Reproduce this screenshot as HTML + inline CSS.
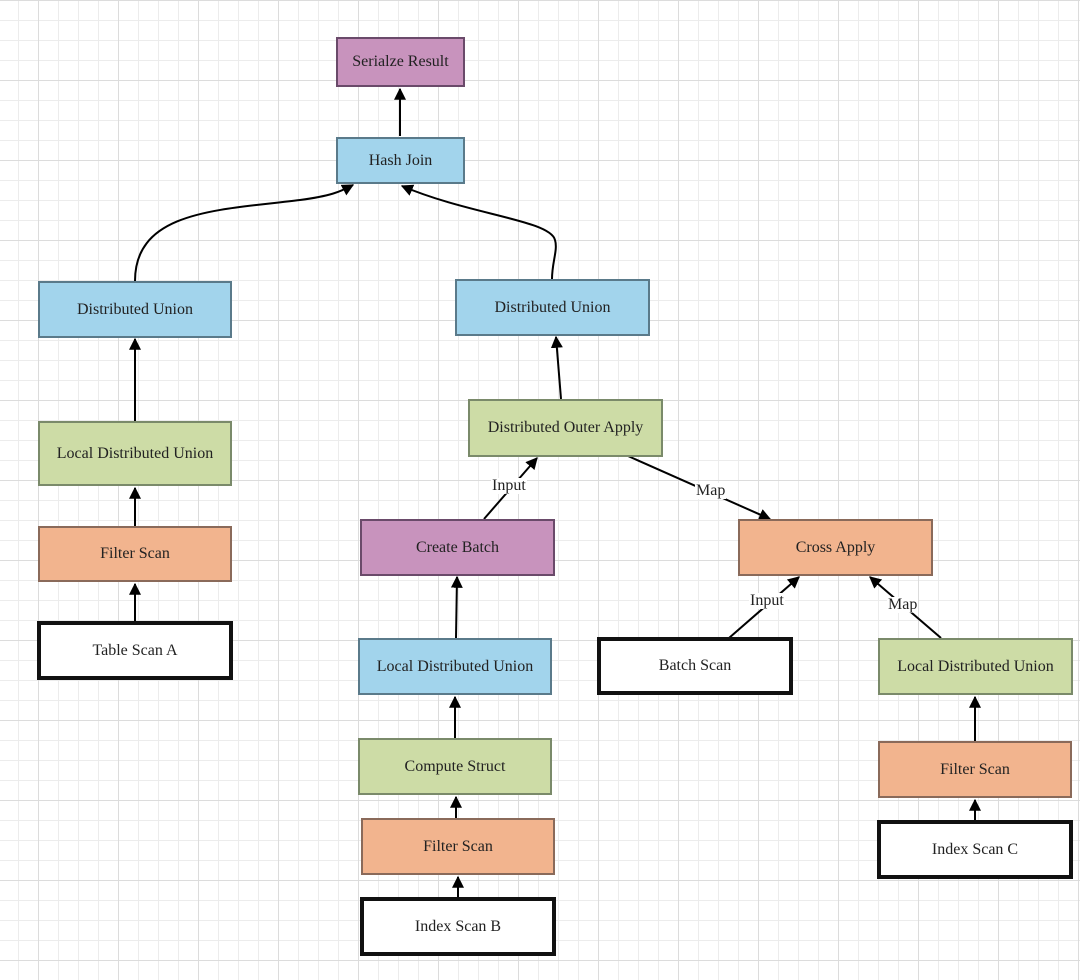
<!DOCTYPE html>
<html><head><meta charset="utf-8"><style>
html,body{margin:0;padding:0}
body{width:1080px;height:980px;overflow:hidden;background:#fff;position:relative;font-family:"Liberation Serif",serif}
.g{position:absolute;inset:0;background-image:
linear-gradient(to right,#dcdcdc 1px,transparent 1px),
linear-gradient(to bottom,#dcdcdc 1px,transparent 1px),
linear-gradient(to right,#ececec 1px,transparent 1px),
linear-gradient(to bottom,#ececec 1px,transparent 1px);
background-size:80px 80px,80px 80px,20px 20px,20px 20px;
background-position:38px 0,0 0,18px 0,0 0}
.b{position:absolute;box-sizing:border-box;border:2px solid;display:flex;align-items:center;justify-content:center;font-size:16px;color:#222;white-space:nowrap}
.bl{background:#a2d4ec;border-color:#5a7a8a}
.gr{background:#cddca6;border-color:#7a8a6a}
.or{background:#f2b48e;border-color:#8a6a5a}
.pu{background:#c893bd;border-color:#6a4a6a}
.wh{background:#fff;border:4px solid #111}
.l{position:absolute;font-size:16px;background:#fff;padding:0 1px;line-height:16px;color:#222}
svg{position:absolute;left:0;top:0}
</style></head><body>
<div class="g"></div>
<svg width="1080" height="980">
<defs><marker id="a" viewBox="0 0 10 10" refX="9" refY="5" markerWidth="6" markerHeight="6" orient="auto"><path d="M0,0L10,5L0,10z" fill="#000"/></marker></defs>
<g stroke="#000" stroke-width="2" fill="none" marker-end="url(#a)">
<path d="M400,136V89"/>
<path d="M135,281C135,210 220,210 300,200 C330,196 340,192 353,185"/>
<path d="M552,279C552,262 558,250 555,240 C550,220 470,215 402,186"/>
<path d="M135,421V339"/>
<path d="M135,526V488"/>
<path d="M135,622V584"/>
<path d="M561,399L556,337"/>
<path d="M484,519L537,458"/>
<path d="M628,456L770,519"/>
<path d="M456,638L457,577"/>
<path d="M455,738V697"/>
<path d="M456,818V797"/>
<path d="M458,898V877"/>
<path d="M729,638L799,577"/>
<path d="M941,638L870,577"/>
<path d="M975,741V697"/>
<path d="M975,821V800"/>
</g>
</svg>
<div class="b pu" style="left:336px;top:37px;width:129px;height:50px">Serialze Result</div>
<div class="b bl" style="left:336px;top:137px;width:129px;height:47px">Hash Join</div>
<div class="b bl" style="left:38px;top:281px;width:194px;height:57px">Distributed Union</div>
<div class="b bl" style="left:455px;top:279px;width:195px;height:57px">Distributed Union</div>
<div class="b gr" style="left:38px;top:421px;width:194px;height:65px">Local Distributed Union</div>
<div class="b or" style="left:38px;top:526px;width:194px;height:56px">Filter Scan</div>
<div class="b wh" style="left:37px;top:621px;width:196px;height:59px">Table Scan A</div>
<div class="b gr" style="left:468px;top:399px;width:195px;height:58px">Distributed Outer Apply</div>
<div class="b pu" style="left:360px;top:519px;width:195px;height:57px">Create Batch</div>
<div class="b bl" style="left:358px;top:638px;width:194px;height:57px">Local Distributed Union</div>
<div class="b gr" style="left:358px;top:738px;width:194px;height:57px">Compute Struct</div>
<div class="b or" style="left:361px;top:818px;width:194px;height:57px">Filter Scan</div>
<div class="b wh" style="left:360px;top:897px;width:196px;height:59px">Index Scan B</div>
<div class="b or" style="left:738px;top:519px;width:195px;height:57px">Cross Apply</div>
<div class="b wh" style="left:597px;top:637px;width:196px;height:58px">Batch Scan</div>
<div class="b gr" style="left:878px;top:638px;width:195px;height:57px">Local Distributed Union</div>
<div class="b or" style="left:878px;top:741px;width:194px;height:57px">Filter Scan</div>
<div class="b wh" style="left:877px;top:820px;width:196px;height:59px">Index Scan C</div>
<div class="l" style="left:491px;top:478px">Input</div>
<div class="l" style="left:695px;top:483px">Map</div>
<div class="l" style="left:749px;top:593px">Input</div>
<div class="l" style="left:887px;top:597px">Map</div>
</body></html>
